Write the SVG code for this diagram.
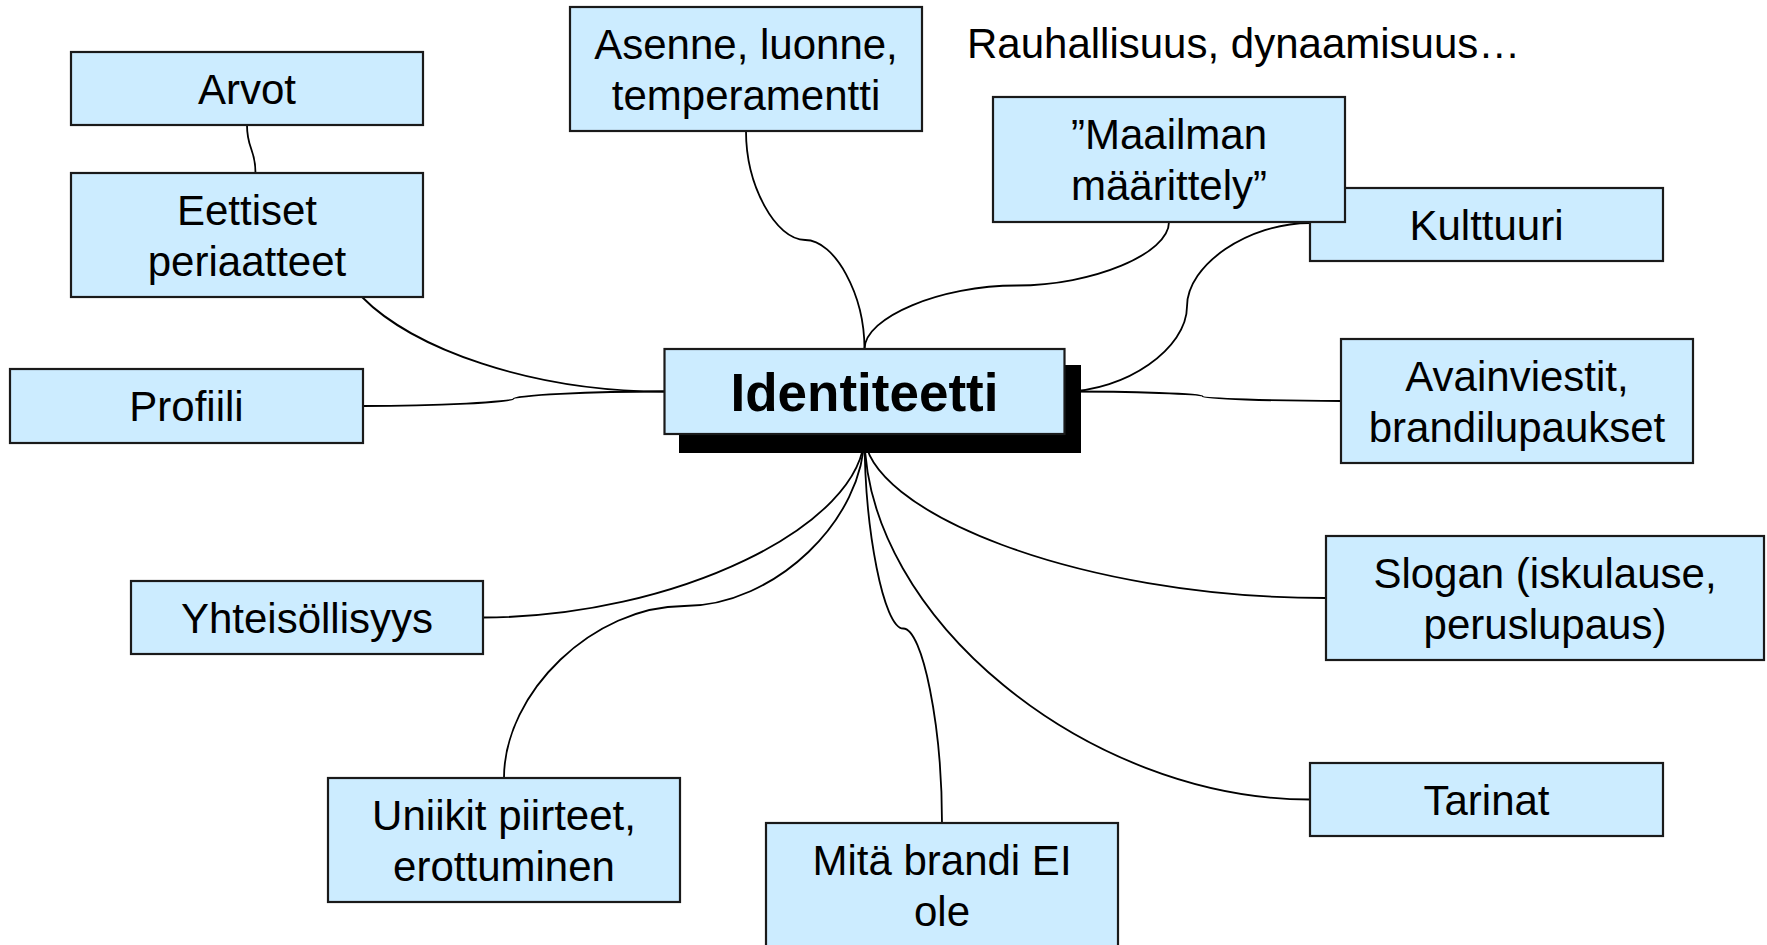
<svg xmlns="http://www.w3.org/2000/svg" width="1767" height="945" viewBox="0 0 1767 945">
<defs>
<style>
.box{fill:#CCECFF;stroke:#1a1a1a;stroke-width:2.2}
.t{font-family:"Liberation Sans",Arial,sans-serif;font-size:42px;fill:#000;text-anchor:middle}
.tb{font-family:"Liberation Sans",Arial,sans-serif;font-size:53px;font-weight:bold;fill:#000;text-anchor:middle}
.c{fill:none;stroke:#000;stroke-width:1.8}
</style>
</defs>
<rect width="1767" height="945" fill="#fff"/>
<g id="connectors">
<path class="c" d="M247,125 C247,150 255.5,148 255.5,173"/>
<path class="c" d="M362,297 C412,348 530,391.5 664,391.5"/>
<path class="c" d="M363,406 C438,406 513.5,402 513.5,398.75 C513.5,395.5 589,391.5 664,391.5"/>
<path class="c" d="M746,131 C746,185.5 775.6,240 805.25,240 C834.9,240 864.5,294.5 864.5,349"/>
<path class="c" d="M1169,222 C1169,253.75 1092.75,285.5 1016.75,285.5 C940.6,285.5 864.5,317.25 864.5,349"/>
<path class="c" d="M1310,223 C1248.5,223 1187,264.75 1187,306.5 C1187,348.25 1125.5,391.5 1064,391.5"/>
<path class="c" d="M1064,391.5 C1133,391.5 1202.5,393.9 1202.5,396.25 C1202.5,398.6 1272,401 1341,401"/>
<path class="c" d="M864.5,434 C864.5,525.75 673.75,617.5 483,617.5"/>
<path class="c" d="M864.5,434 C864.5,520 774.4,606 684.25,606 C594.1,606 504,692 504,778"/>
<path class="c" d="M864.5,434 C864.5,531.25 883.9,628.5 903.25,628.5 C922.6,628.5 942,725.75 942,823"/>
<path class="c" d="M864.5,434 C864.5,510 1075,598 1326,598"/>
<path class="c" d="M864.5,434 C864.5,616.75 1087,799.5 1310,799.5"/>
</g>
<g id="arvot">
<rect class="box" x="71" y="52" width="352" height="73"/>
<text class="t" x="247" y="104">Arvot</text>
</g>
<g id="eettiset">
<rect class="box" x="71" y="173" width="352" height="124"/>
<text class="t" x="247" y="225">Eettiset</text>
<text class="t" x="247" y="276">periaatteet</text>
</g>
<g id="profiili">
<rect class="box" x="10" y="369" width="353" height="74"/>
<text class="t" x="186.5" y="421">Profiili</text>
</g>
<g id="asenne">
<rect class="box" x="570" y="7" width="352" height="124"/>
<text class="t" x="746" y="59">Asenne, luonne,</text>
<text class="t" x="746" y="110">temperamentti</text>
</g>
<g id="rauhallisuus">
<text class="t" x="967" y="58" style="text-anchor:start">Rauhallisuus, dynaamisuus…</text>
</g>
<g id="kulttuuri">
<rect class="box" x="1310" y="188" width="353" height="73"/>
<text class="t" x="1486.5" y="240">Kulttuuri</text>
</g>
<g id="maailman">
<rect class="box" x="993" y="97" width="352" height="125"/>
<text class="t" x="1169" y="149">”Maailman</text>
<text class="t" x="1169" y="200">määrittely”</text>
</g>
<g id="identiteetti">
<rect x="679" y="365" width="402" height="88" fill="#000"/>
<rect class="box" x="664.5" y="349" width="400" height="85"/>
<text class="tb" x="864.5" y="411">Identiteetti</text>
</g>
<g id="avainviestit">
<rect class="box" x="1341" y="339" width="352" height="124"/>
<text class="t" x="1517" y="391">Avainviestit,</text>
<text class="t" x="1517" y="442">brandilupaukset</text>
</g>
<g id="yhteisollisyys">
<rect class="box" x="131" y="581" width="352" height="73"/>
<text class="t" x="307" y="633">Yhteisöllisyys</text>
</g>
<g id="slogan">
<rect class="box" x="1326" y="536" width="438" height="124"/>
<text class="t" x="1545" y="588">Slogan (iskulause,</text>
<text class="t" x="1545" y="639">peruslupaus)</text>
</g>
<g id="tarinat">
<rect class="box" x="1310" y="763" width="353" height="73"/>
<text class="t" x="1486.5" y="815">Tarinat</text>
</g>
<g id="uniikit">
<rect class="box" x="328" y="778" width="352" height="124"/>
<text class="t" x="504" y="830">Uniikit piirteet,</text>
<text class="t" x="504" y="881">erottuminen</text>
</g>
<g id="mita">
<rect class="box" x="766" y="823" width="352" height="130"/>
<text class="t" x="942" y="875">Mitä brandi EI</text>
<text class="t" x="942" y="926">ole</text>
</g>
</svg>
